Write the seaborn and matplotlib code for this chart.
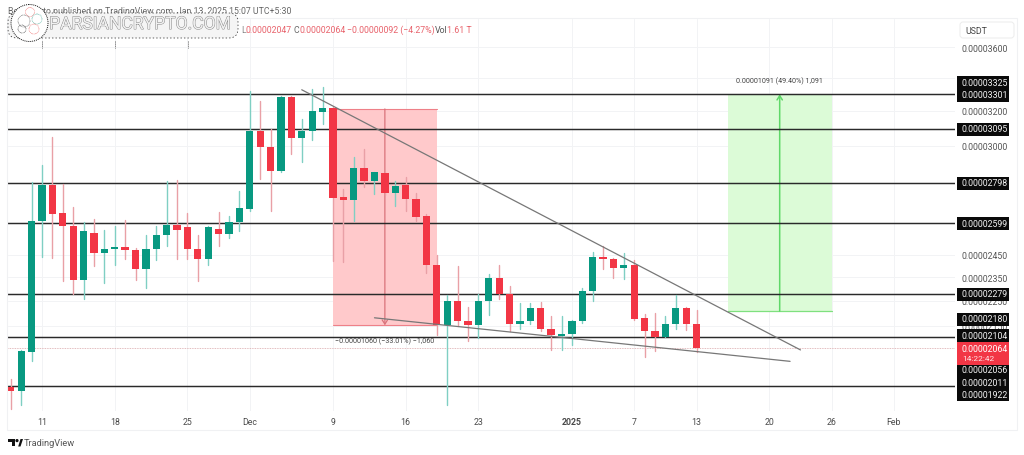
import numpy as np
import pandas as pd
import matplotlib
matplotlib.use("Agg")
import matplotlib.pyplot as plt
import matplotlib.dates as mdates
import matplotlib.patheffects as pe
from matplotlib.lines import Line2D
from matplotlib.patches import Rectangle, FancyBboxPatch, Circle, Polygon
from matplotlib.transforms import Affine2D
import seaborn as sns

# ---------- data (prices in units of 1e-8 USDT) ----------
first_day = "2024-11-08"
opens = [1917,1903,2048,2608,2791,2647,2583,2338,2554,2461,2479,2488,2475,2386,2476,2541,2592,2578,2479,2434,2573,2546,2602,
         2669,3085,2994,2860,3285,3044,3085,3190,3214,2726,2715,2878,2812,2853,2746,2789,2719,2632,2406,2154,2248,2170,2153,2251,2349,2281,2158,2169,2219,2137,2109,
         2117,2169,2291,2441,2433,2392,2407,2179,2129,2105,2155,2220,2156]
highs = [1949,2053,2806,2895,3049,2796,2679,2602,2621,2568,2583,2616,2484,2544,2583,2811,2817,2650,2544,2587,2655,2635,2760,
         3319,3260,3091,3291,3289,3153,3332,3344,3220,2770,2939,2979,2858,2858,2808,2832,2750,2645,2449,2273,2400,2223,2278,2367,2407,2315,2240,2240,2244,2188,2190,
         2174,2306,2464,2492,2437,2461,2426,2198,2202,2189,2277,2223,2211]
lows = [1841,1855,2013,2443,2438,2336,2281,2257,2402,2328,2404,2431,2338,2306,2426,2490,2431,2431,2334,2407,2490,2530,2559,
        2659,2822,2659,2858,2952,2912,3029,3124,2422,2420,2607,2780,2744,2739,2684,2656,2607,2371,2111,1856,2150,2089,2099,2194,2257,2127,2135,2155,2130,2055,2053,
        2074,2162,2248,2389,2346,2345,2171,2027,2051,2104,2135,2131,2047]
closes = [1903,2051,2611,2791,2645,2583,2338,2559,2461,2479,2485,2475,2386,2476,2544,2592,2568,2476,2431,2578,2546,2602,2674,
          3085,2994,2860,3285,3042,3084,3196,3214,2724,2715,2878,2812,2855,2746,2786,2717,2630,2404,2151,2248,2170,2153,2251,2349,2280,2158,2170,2219,2135,2112,2117,
          2170,2291,2443,2431,2392,2405,2178,2129,2105,2155,2220,2155,2064]

level_prices = [3301, 3095, 2798, 2599, 2279, 2104, 1922]
last_price = 2064
axis_ticks = [3600, 3400, 3200, 3000, 2450, 2350, 2250, 2150]
date_ticks = ["2024-11-11","2024-11-18","2024-11-25","2024-12-01","2024-12-09","2024-12-16","2024-12-23",
              "2025-01-01","2025-01-07","2025-01-13","2025-01-20","2025-01-26","2025-02-01"]
date_labels = ["11","18","25","Dec","9","16","23","2025","7","13","20","26","Feb"]
price_tags = ["0.00003325","0.00003301","0.00003095","0.00002798","0.00002599","0.00002279",
              "0.00002180","0.00002104","0.00002056","0.00002011","0.00001922"]
tag_rows = [83.5, 96, 130, 184, 224.5, 295, 320, 336.7, 371, 383.5, 396]

short_top, short_bottom = 3211, 2151
short_dates = ("2024-12-09", "2024-12-14", "2024-12-19")
long_top, long_bottom = 3299, 2208
long_dates = ("2025-01-16", "2025-01-21", "2025-01-26")
upper_trend_dates = ["2024-12-06", "2025-01-23"]
upper_trend_prices = [3327, 2055]
lower_trend_dates = ["2024-12-13", "2025-01-22"]
lower_trend_prices = [2181, 2012]

# ---------- style ----------
UP, DOWN = "#089981", "#f23645"
W, H = 1024, 456
sns.set_theme(style="white")
plt.rcParams["font.family"] = ["Roboto", "DejaVu Sans"]

fig = plt.figure(figsize=(W/100, H/100), dpi=100, facecolor="white")
L, R, T, B = 8, 955, 20, 412
ax = fig.add_axes([L/W, 1-B/H, (R-L)/W, (B-T)/H])
px = Affine2D().scale(1/W, -1/H).translate(0, 1) + fig.transFigure

ax.set_yscale("log")
d2n = lambda s: mdates.date2num(pd.Timestamp(s))
days = mdates.date2num(pd.date_range(first_day, periods=len(opens)))
x_ref = d2n("2024-11-11")
ax.set_xlim(x_ref-(42-L)/10.39, x_ref+(R-42)/10.39)
P = lambda y: 3301*np.exp(-(y-95)/540)
ax.set_ylim(P(B), P(T))

# grid
ax.set_xticks([d2n(d) for d in date_ticks])
ax.set_xticklabels(date_labels, fontsize=6.3, color="#4a4a4a")
ax.get_xticklabels()[7].set_fontweight("bold")
ax.yaxis.tick_right()
ax.set_yticks(axis_ticks)
ax.set_yticklabels([f"0.0000{v}" for v in axis_ticks], fontsize=6.3, color="#555555")
ax.yaxis.set_minor_locator(matplotlib.ticker.NullLocator())
ax.tick_params(axis="x", length=0, pad=4)
ax.tick_params(axis="y", length=0, pad=5)
ax.grid(True, color="#f2f3f5", lw=0.7)
ax.set_axisbelow(True)
for s in ax.spines.values():
    s.set_visible(False)

# positions
ax.add_patch(Rectangle((d2n(short_dates[0]), short_bottom), d2n(short_dates[2])-d2n(short_dates[0]),
                       short_top-short_bottom, fc="#ffc9cb", ec="none", zorder=1))
ax.add_patch(Rectangle((d2n(long_dates[0]), long_bottom), d2n(long_dates[2])-d2n(long_dates[0]),
                       long_top-long_bottom, fc="#dcfbd7", ec="none", zorder=1))
for y in (short_top, short_bottom):
    ax.plot([d2n(short_dates[0]), d2n(short_dates[2])], [y, y], color="#ee8088", lw=0.8, zorder=1.5)
ax.plot([d2n(long_dates[0]), d2n(long_dates[2])], [long_bottom]*2, color="#7fe07f", lw=0.9, zorder=1.5)
ax.annotate("", xy=(d2n(short_dates[1]), short_bottom), xytext=(d2n(short_dates[1]), short_top),
            arrowprops=dict(arrowstyle="->,head_width=0.16,head_length=0.25", color="#d9737b", lw=0.9,
                            shrinkA=0, shrinkB=0), zorder=1.6)
ax.annotate("", xy=(d2n(long_dates[1]), long_top), xytext=(d2n(long_dates[1]), long_bottom),
            arrowprops=dict(arrowstyle="->,head_width=0.16,head_length=0.25", color="#5fd868", lw=1.1,
                            shrinkA=0, shrinkB=0), zorder=1.6)

# horizontal levels and last-price line
levels = pd.DataFrame({"x": [days[0]-10, days[-1]+60]*len(level_prices),
                       "price": np.repeat(level_prices, 2)})
sns.lineplot(data=levels, x="x", y="price", units="price", estimator=None, color="#2a2a2a",
             lw=1.05, ax=ax, zorder=2, legend=False)
ax.axhline(last_price, color="#d9a5a8", lw=0.6, ls=(0, (1, 1)), zorder=2)

# candles
wick = pd.DataFrame({
    "day": np.repeat(days, 2),
    "price": np.column_stack([lows, highs]).ravel(),
    "dir": np.repeat(["up" if c >= o else "down" for o, c in zip(opens, closes)], 2),
})
sns.lineplot(data=wick, x="day", y="price", units="day", hue="dir", estimator=None,
             palette={"up": "#7fcfc3", "down": "#e9a0a6"}, lw=1.0, ax=ax, zorder=3, legend=False)
o, c = np.array(opens, float), np.array(closes, float)
ax.bar(days, np.abs(c-o), bottom=np.minimum(o, c), width=0.70,
       color=[UP if ci >= oi else DOWN for oi, ci in zip(o, c)], zorder=4, linewidth=0)

# trend lines
for ds, ps in ((upper_trend_dates, upper_trend_prices), (lower_trend_dates, lower_trend_prices)):
    tr = pd.DataFrame({"x": [d2n(d) for d in ds], "price": ps})
    sns.lineplot(data=tr, x="x", y="price", color="#777777", lw=0.9, ax=ax, zorder=5, legend=False)
ax.set_xlabel(""); ax.set_ylabel("")
ax.set_xlim(x_ref-(42-L)/10.39, x_ref+(R-42)/10.39)
ax.set_ylim(P(B), P(T))

# position labels
ax.text(d2n(short_dates[1]), P(341.5), "−0.00001060 (−33.01%) −1,060", fontsize=5.1, color="#444444",
        ha="center", va="center", zorder=6)
ax.text(d2n(long_dates[1]), P(81.5), "0.00001091 (49.40%) 1,091", fontsize=5.1, color="#444444",
        ha="center", va="center", zorder=6)

# frame around the chart
fig.add_artist(Rectangle((7, 19), 1010, 412, transform=px, fc="none", ec="#f0f1f3", lw=0.8, zorder=1))

# price tags
for txt, y in zip(price_tags, tag_rows):
    fig.add_artist(Rectangle((957, y-6.5), 52, 13, transform=px, fc="#0a0a0a", ec="none", zorder=3))
    fig.text(962, y, txt, transform=px, fontsize=6.3, color="#f4f4f4", va="center", ha="left", zorder=4)
fig.add_artist(Rectangle((957, 343), 52, 22.5, transform=px, fc=DOWN, ec="none", zorder=3.5))
fig.text(962, 349.5, "0.00002064", transform=px, fontsize=6.3, color="white", va="center", zorder=4)
fig.text(962, 359.5, "14:22:42", transform=px, fontsize=6, color="#ffe2e4", va="center", zorder=4)

# currency box
fig.add_artist(FancyBboxPatch((960, 23), 54, 16, boxstyle="round,pad=0,rounding_size=3", transform=px,
                              fc="white", ec="#ececec", lw=0.7, zorder=3))
fig.text(965, 31, "USDT", transform=px, fontsize=6.3, color="#444444", va="center", zorder=4)

# header
fig.text(8, 11, "BeInCrypto published on TradingView.com, Jan 13, 2025 15:07 UTC+5:30", transform=px,
         fontsize=6.3, color="#666666", va="center", zorder=2)
hdr = [(241, "L", "#8a8a8a"), (246, "0.00002047", "#e8636c"), (294, "C", "#666666"), (299, "0.00002064", "#e8636c"),
       (347, "−0.00000092 (−4.27%)", "#e8636c"), (435, "Vol", "#555555"), (447, "1.61 T", "#e8636c")]
for x, t, col in hdr:
    fig.text(x, 30.5, t, transform=px, fontsize=6.3, color=col, va="center", zorder=2)

# watermark
fig.add_artist(FancyBboxPatch((8, 14), 230, 25, boxstyle="round,pad=0,rounding_size=9", transform=px,
                              fc="#f5f5f5", ec="#222222", lw=0.5, ls=(0, (2, 3)), zorder=5))
fig.add_artist(Circle((29.5, 24), 18.5, transform=px, fc="white", ec="#111111", lw=0.7, ls=(0, (1, 1)), zorder=5.1))
for (cx, cy, r, col) in [(30, 13, 4.5, "#e66"), (24, 22, 6, "#555"), (37, 20, 5, "#4a9"), (22, 30, 4, "#333"), (34, 30, 5, "#e66")]:
    fig.add_artist(Circle((cx, cy), r, transform=px, fc="none", ec=col, lw=0.5, ls=(0, (1, 1)), zorder=5.2))
wm = fig.text(140, 25.5, "PARSIANCRYPTO.COM", transform=px, fontsize=12.6, color="#f1f1f1",
              ha="center", va="center", zorder=5.3)
wm.set_path_effects([pe.Stroke(linewidth=0.7, foreground="#8a8a8a"), pe.Normal()])
for xt in (41.5, 115, 187.5):
    fig.add_artist(Line2D([xt, xt], [42, 49], transform=px, color="#222222", lw=0.5, ls=(0, (1.5, 1.5)), zorder=5))

# TradingView mark
fig.add_artist(Polygon([(8, 440), (15, 440), (15, 447.5), (11.5, 447.5), (11.5, 443), (8, 443)],
                       closed=True, transform=px, fc="#111111", ec="none", zorder=3))
fig.add_artist(Circle((17, 441.6), 1.6, transform=px, fc="#111111", ec="none", zorder=3))
fig.add_artist(Polygon([(18.2, 447.5), (20.5, 440), (23, 440), (20.5, 447.5)],
                       closed=True, transform=px, fc="#111111", ec="none", zorder=3))
fig.text(24, 444, "TradingView", transform=px, fontsize=6.7, color="#555555", va="center", zorder=3)

fig.savefig("out.png", dpi=100, facecolor="white")
